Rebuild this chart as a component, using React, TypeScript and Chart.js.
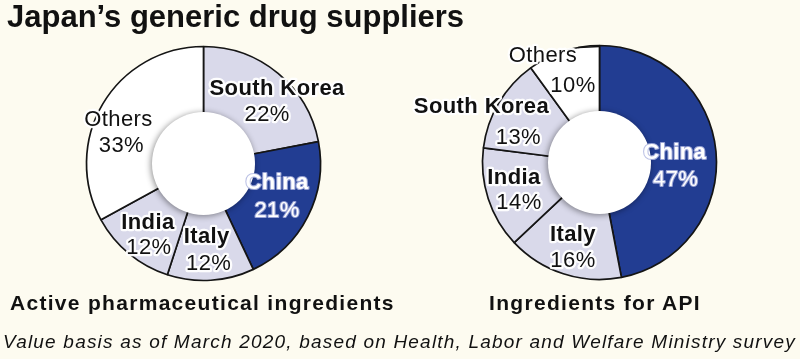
import React, { useEffect, useRef } from "react";
import { Chart, registerables } from "chart.js";

Chart.register(...registerables);

// ---- data ----
const TITLE = "Japan\u2019s generic drug suppliers";
const LEFT_CAPTION = "Active pharmaceutical ingredients";
const RIGHT_CAPTION = "Ingredients for API";
const FOOTNOTE =
  "Value basis as of March 2020, based on Health, Labor and Welfare Ministry survey";

const apiCountries = ["South Korea", "China", "Italy", "India", "Others"];
const apiShares = [22, 21, 12, 12, 33];

const ingCountries = ["China", "Italy", "India", "South Korea", "Others"];
const ingShares = [47, 16, 14, 13, 10];

// ---- styles ----
const BG = "#fdfbf0";
const BLUE = "#223d92";
const LAVENDER = "#d9d9ea";
const WHITE = "#ffffff";
const FONT = '"Liberation Sans", Arial, Helvetica, sans-serif';
const OUTER_R = 117;
const CUTOUT = 49;
const HOLE_R = 51.5;

// label line offsets relative to each arc's centre point: [dx1, dy1, dx2, dy2]
const apiLabelPos = [
  [21, -13, 11, 13],
  [0, -20, 0, 8],
  [-2, -11, 0, 16],
  [-3, -6, -2, 19],
  [-14, -3, -11, 23],
];
const ingLabelPos = [
  [-7, -4, -6, 23],
  [-1, -8, -1, 18],
  [-7, -12, -2, 13],
  [-47, -15, -10, 16],
  [-31, -30, -1, 0],
];

function colorFor(name: string) {
  if (name === "China") return BLUE;
  if (name === "Others") return WHITE;
  return LAVENDER;
}

function setFont(ctx: CanvasRenderingContext2D, bold: boolean) {
  ctx.font = `${bold ? "bold" : "normal"} 22px ${FONT}`;
  (ctx as any).letterSpacing = "0.4px";
}

function drawLabel(
  ctx: CanvasRenderingContext2D,
  text: string,
  x: number,
  y: number,
  bold: boolean,
  light: boolean
) {
  ctx.save();
  setFont(ctx, bold);
  ctx.textAlign = "center";
  ctx.textBaseline = "alphabetic";
  ctx.lineJoin = "round";
  const by = y + 8;
  if (light) {
    ctx.strokeStyle = "rgba(175,182,225,0.85)";
    ctx.lineWidth = 2.2;
    ctx.strokeText(text, x, by);
    ctx.fillStyle = "#ffffff";
  } else {
    ctx.strokeStyle = "rgba(255,255,255,0.95)";
    ctx.lineWidth = 4.5;
    ctx.strokeText(text, x, by);
    ctx.fillStyle = "#111111";
  }
  ctx.fillText(text, x, by);
  const w = ctx.measureText(text).width;
  ctx.restore();
  return w;
}

function makeDecor(names: string[], values: number[], pos: number[][], leaderFor: string | null) {
  return {
    id: "donutDecor",
    afterDatasetsDraw(chart: any) {
      const ctx: CanvasRenderingContext2D = chart.ctx;
      const meta = chart.getDatasetMeta(0);
      const first = meta.data[0].getProps(["x", "y", "outerRadius"], true);
      const cx = first.x;
      const cy = first.y;
      const R = first.outerRadius;
      // inner hole with soft shadow
      ctx.save();
      ctx.shadowColor = "rgba(0,0,0,0.45)";
      ctx.shadowBlur = 6;
      ctx.shadowOffsetX = -1;
      ctx.shadowOffsetY = 1;
      ctx.beginPath();
      ctx.arc(cx, cy, HOLE_R, 0, Math.PI * 2);
      ctx.fillStyle = "#ffffff";
      ctx.fill();
      ctx.restore();
      // labels
      meta.data.forEach((arc: any, i: number) => {
        const c = arc.getCenterPoint(true);
        const [dx1, dy1, dx2, dy2] = pos[i];
        const name = names[i];
        const isChina = name === "China";
        const w = drawLabel(ctx, name, c.x + dx1, c.y + dy1, name !== "Others", isChina);
        drawLabel(ctx, values[i] + "%", c.x + dx2, c.y + dy2, false, isChina);
        if (leaderFor && name === leaderFor) {
          ctx.save();
          ctx.strokeStyle = "#111";
          ctx.lineWidth = 1.5;
          ctx.beginPath();
          ctx.moveTo(c.x + dx1 + w / 2 + 1, cy - R + 2);
          ctx.lineTo(cx, cy - R + 1);
          ctx.stroke();
          ctx.restore();
        }
      });
    },
  };
}

function makeDonut(
  canvas: HTMLCanvasElement,
  names: string[],
  values: number[],
  pos: number[][],
  padding: { left: number; right: number; top: number; bottom: number },
  leaderFor: string | null
) {
  return new Chart(canvas, {
    type: "doughnut",
    data: {
      labels: names,
      datasets: [
        {
          data: values,
          backgroundColor: names.map(colorFor),
          borderColor: "#151515",
          borderWidth: 1.7,
          hoverOffset: 0,
        },
      ],
    },
    options: {
      responsive: false,
      animation: false,
      events: [],
      radius: OUTER_R,
      cutout: CUTOUT,
      rotation: 0,
      layout: { padding },
      plugins: {
        legend: { display: false },
        tooltip: { enabled: false },
      },
    } as any,
    plugins: [makeDecor(names, values, pos, leaderFor)],
  });
}

export default function App() {
  const leftRef = useRef<HTMLCanvasElement>(null);
  const rightRef = useRef<HTMLCanvasElement>(null);

  useEffect(() => {
    const c1 = makeDonut(
      leftRef.current!,
      apiCountries,
      apiShares,
      apiLabelPos,
      { left: 83.5, right: 76.5, top: 43.5, bottom: 75.5 },
      null
    );
    const c2 = makeDonut(
      rightRef.current!,
      ingCountries,
      ingShares,
      ingLabelPos,
      { left: 79.5, right: 80.5, top: 42.5, bottom: 76.5 },
      "Others"
    );
    return () => {
      c1.destroy();
      c2.destroy();
    };
  }, []);

  const textBase: React.CSSProperties = {
    position: "absolute",
    whiteSpace: "nowrap",
    color: "#111",
    fontFamily: FONT,
  };

  return (
    <div
      style={{
        position: "absolute",
        left: 0,
        top: 0,
        width: 800,
        height: 359,
        background: BG,
        overflow: "hidden",
      }}
    >
      <canvas
        ref={leftRef}
        width={400}
        height={359}
        style={{ position: "absolute", left: 0, top: 0, width: 400, height: 359 }}
      />
      <canvas
        ref={rightRef}
        width={400}
        height={359}
        style={{ position: "absolute", left: 400, top: 0, width: 400, height: 359 }}
      />
      <div
        style={{
          ...textBase,
          left: 7,
          top: 1,
          fontSize: 31,
          lineHeight: "31px",
          fontWeight: "bold",
        }}
      >
        {TITLE}
      </div>
      <div
        style={{
          ...textBase,
          left: 10,
          top: 292,
          fontSize: 21,
          lineHeight: "21px",
          fontWeight: "bold",
          letterSpacing: "1.3px",
        }}
      >
        {LEFT_CAPTION}
      </div>
      <div
        style={{
          ...textBase,
          left: 470,
          width: 250,
          textAlign: "center",
          top: 292,
          fontSize: 21,
          lineHeight: "21px",
          fontWeight: "bold",
          letterSpacing: "1.3px",
        }}
      >
        {RIGHT_CAPTION}
      </div>
      <div
        style={{
          ...textBase,
          left: 3,
          top: 332,
          fontSize: 19,
          lineHeight: "19px",
          fontStyle: "italic",
          letterSpacing: "1.2px",
        }}
      >
        {FOOTNOTE}
      </div>
    </div>
  );
}
